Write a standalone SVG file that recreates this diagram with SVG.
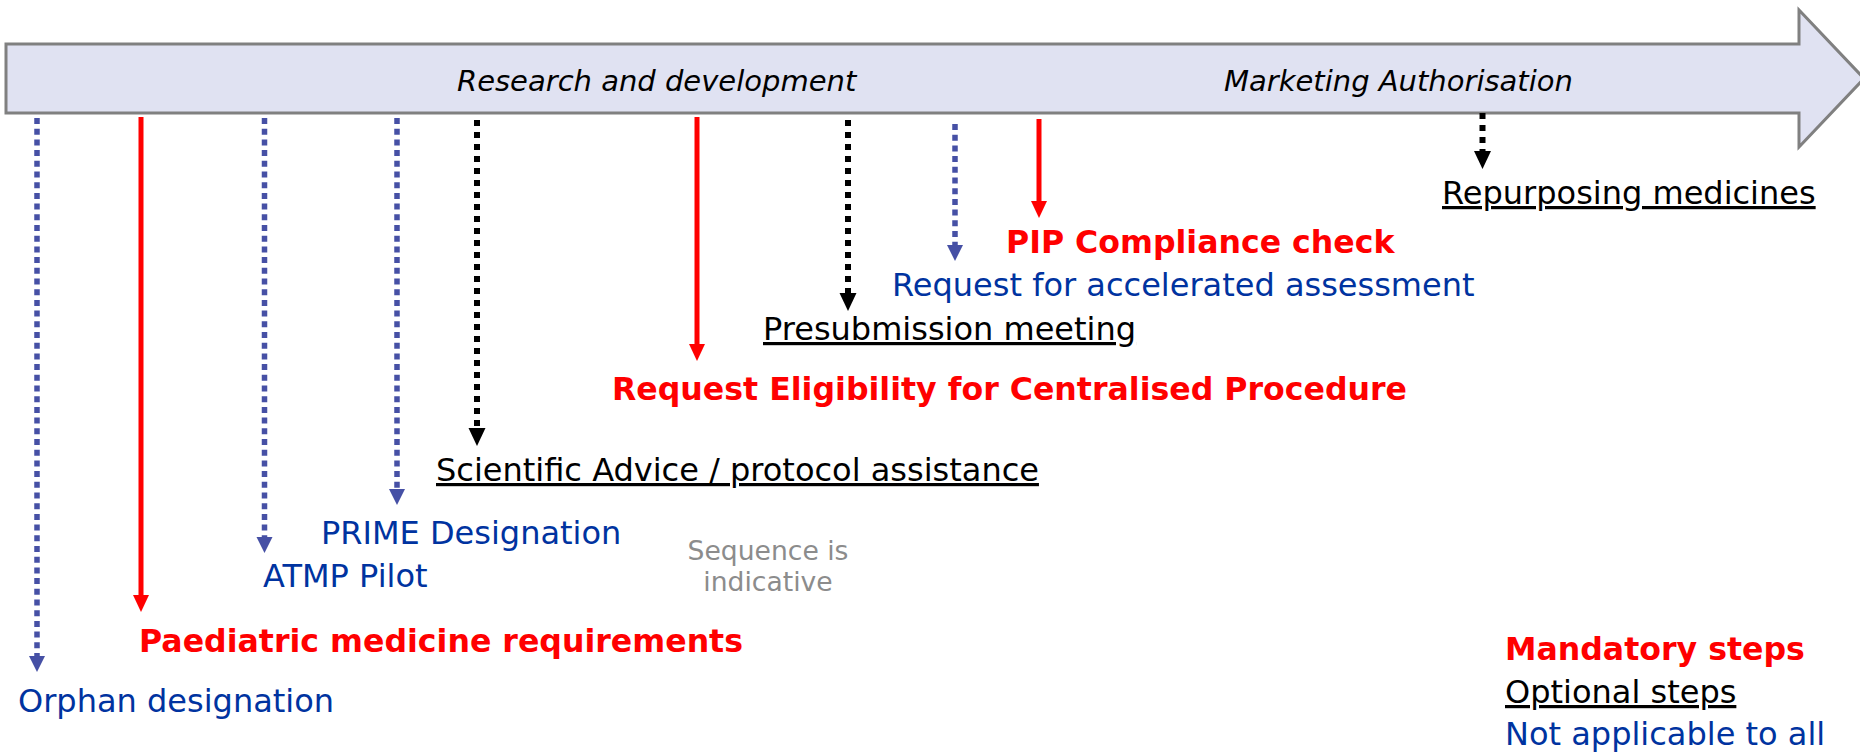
<svg xmlns="http://www.w3.org/2000/svg" width="1860" height="755" viewBox="0 0 1860 755">
  <style>
    text { font-family: "DejaVu Sans", Verdana, sans-serif; font-size: 32px; }
    .phase { font-style: italic; font-size: 29px; fill: #000; }
    .mand { font-weight: bold; font-size: 31.6px; fill: #FF0000; }
    .opt { fill: #000; text-decoration: underline; }
    .na { fill: #0033A0; }
    .note { fill: #8C8C8C; font-size: 26.6px; text-anchor: middle; }
    .c-red { stroke: #FF0000; stroke-width: 5; fill: none; }
    .c-blue { stroke: #4650A5; stroke-width: 5.5; stroke-dasharray: 6 4.7; fill: none; }
    .c-black { stroke: #000; stroke-width: 6; stroke-dasharray: 6 6; fill: none; }
  </style>
  <defs>
    <marker id="head-red" markerUnits="userSpaceOnUse" markerWidth="18" markerHeight="18" refX="0" refY="8" orient="auto">
      <path d="M0,0 L17,8 L0,16 z" fill="#FF0000"/>
    </marker>
    <marker id="head-blue" markerUnits="userSpaceOnUse" markerWidth="18" markerHeight="18" refX="0" refY="8" orient="auto">
      <path d="M0,0 L16,8 L0,16 z" fill="#4650A5"/>
    </marker>
    <marker id="head-black" markerUnits="userSpaceOnUse" markerWidth="20" markerHeight="18" refX="0" refY="8.5" orient="auto">
      <path d="M0,0 L18,8.5 L0,17 z" fill="#000"/>
    </marker>
  </defs>

  <!-- timeline arrow -->
  <g id="timeline">
    <path d="M6,44 L1799,44 L1799,10 L1864,78.5 L1799,147 L1799,113 L6,113 z" fill="#E0E2F2" stroke="#808080" stroke-width="3"/>
    <text class="phase" x="457" y="91">Research and development</text>
    <text class="phase" x="1224" y="91">Marketing Authorisation</text>
  </g>

  <!-- connectors -->
  <g id="connectors">
    <line class="c-blue" x1="37" y1="118" x2="37" y2="656" marker-end="url(#head-blue)"/>
    <line class="c-red" x1="141" y1="117" x2="141" y2="595" marker-end="url(#head-red)"/>
    <line class="c-blue" x1="264.5" y1="118" x2="264.5" y2="537" marker-end="url(#head-blue)"/>
    <line class="c-blue" x1="397" y1="118" x2="397" y2="489" marker-end="url(#head-blue)"/>
    <line class="c-black" x1="477" y1="120" x2="477" y2="428" marker-end="url(#head-black)"/>
    <line class="c-red" x1="697" y1="117" x2="697" y2="344" marker-end="url(#head-red)"/>
    <line class="c-black" x1="848" y1="120" x2="848" y2="293" marker-end="url(#head-black)"/>
    <line class="c-blue" x1="955" y1="124" x2="955" y2="245" marker-end="url(#head-blue)"/>
    <line class="c-red" x1="1039" y1="119" x2="1039" y2="201" marker-end="url(#head-red)"/>
    <line class="c-black" x1="1482.5" y1="113" x2="1482.5" y2="151" marker-end="url(#head-black)"/>
  </g>

  <!-- steps -->
  <g id="orphan"><text class="na" x="18" y="712">Orphan designation</text></g>
  <g id="paediatric"><text class="mand" x="139" y="652">Paediatric medicine requirements</text></g>
  <g id="atmp"><text class="na" x="263" y="587">ATMP Pilot</text></g>
  <g id="prime"><text class="na" x="321" y="544">PRIME Designation</text></g>
  <g id="scientific-advice"><text class="opt" x="436" y="481">Scientific Advice / protocol assistance</text></g>
  <g id="eligibility"><text class="mand" x="612" y="400">Request Eligibility for Centralised Procedure</text></g>
  <g id="presubmission"><text class="opt" x="763" y="340">Presubmission meeting</text></g>
  <g id="accelerated"><text class="na" x="892" y="296">Request for accelerated assessment</text></g>
  <g id="pip-compliance"><text class="mand" x="1006" y="253">PIP Compliance check</text></g>
  <g id="repurposing"><text class="opt" x="1442" y="204">Repurposing medicines</text></g>

  <!-- note -->
  <g id="sequence-note">
    <text class="note" x="768" y="560">Sequence is</text>
    <text class="note" x="768" y="591">indicative</text>
  </g>

  <!-- legend -->
  <g id="legend">
    <text class="mand" x="1505" y="660">Mandatory steps</text>
    <text class="opt" x="1505" y="703">Optional steps</text>
    <text class="na" x="1505" y="745">Not applicable to all</text>
  </g>
</svg>
